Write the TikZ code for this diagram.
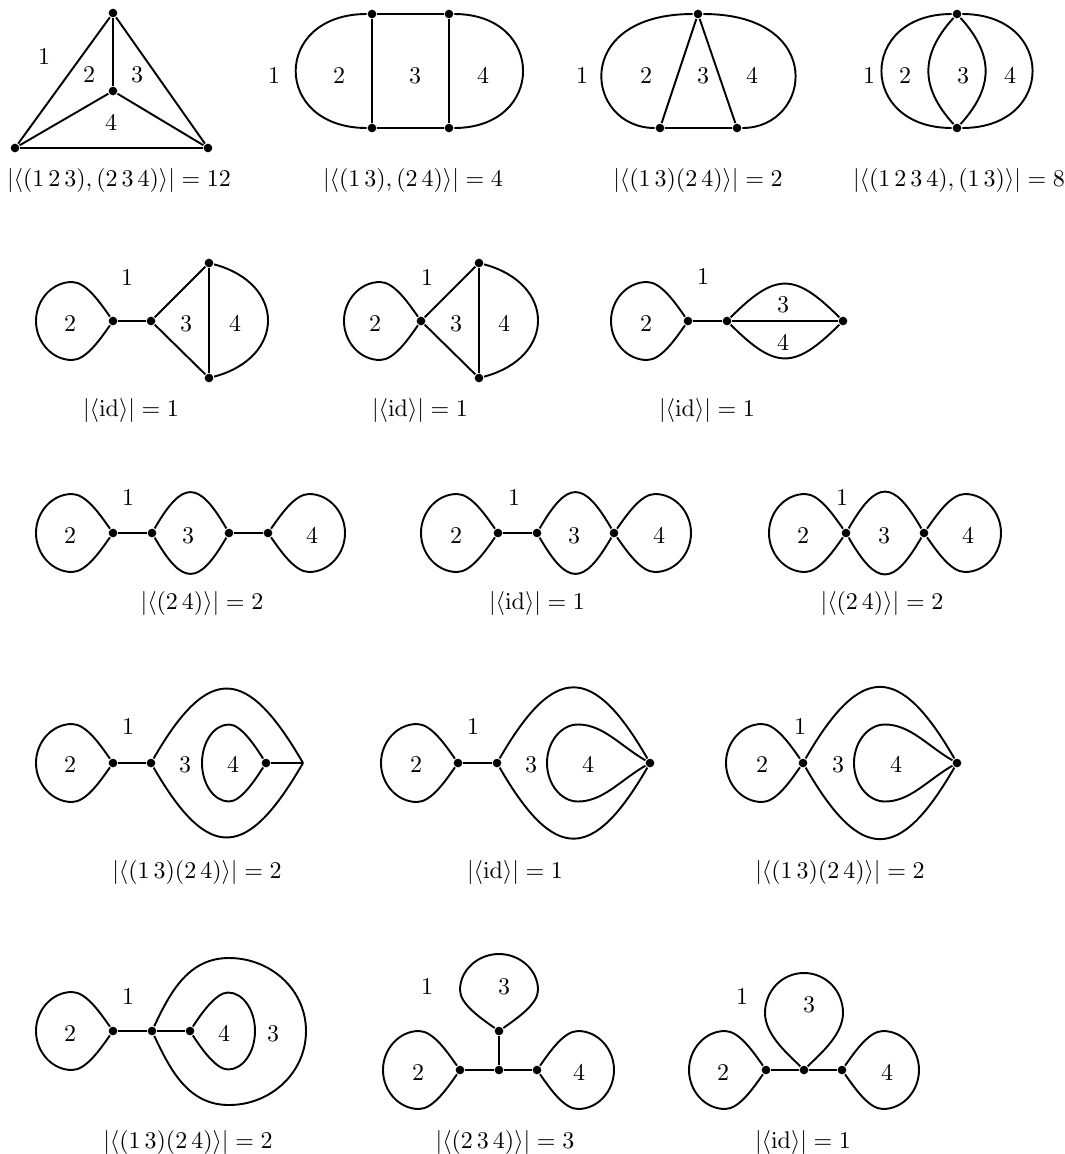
\documentclass[tikz,border=0pt]{standalone}
\usepackage{amsmath, amssymb}
\usepackage{tikz}

\begin{document}
\begin{tikzpicture}[x=0.4167pt,y=-0.4167pt,thick,
  dot/.style={circle,fill,inner sep=0pt,minimum size=3.6pt},
  dropl/.style={to path={.. controls +(-13,-18.5) and +(14,0) .. ++(-41,-39)
    .. controls +(-20,0) and +(0,-21) .. ++(-36,39)
    .. controls +(0,21) and +(-20,0) .. ++(36,39)
    .. controls +(14,0) and +(-13,18.5) .. (\tikztotarget)}},
  dropr/.style={to path={.. controls +(13,-18.5) and +(-14,0) .. ++(41,-39)
    .. controls +(20,0) and +(0,-21) .. ++(36,39)
    .. controls +(0,21) and +(20,0) .. ++(-36,39)
    .. controls +(-14,0) and +(13,18.5) .. (\tikztotarget)}},
  dropu/.style={to path={.. controls +(-18.5,-13) and +(0,14) .. ++(-39,-41)
    .. controls +(0,-20) and +(-21,0) .. ++(39,-36)
    .. controls +(21,0) and +(0,-20) .. ++(39,36)
    .. controls +(0,14) and +(18.5,-13) .. (\tikztotarget)}},
  dropw/.style={to path={.. controls +(-30,-17.5) and +(25,0) .. ++(-72,-38.5)
    .. controls +(-17,0) and +(0,-21) .. ++(-31,38.5)
    .. controls +(0,21) and +(-17,0) .. ++(31,38.5)
    .. controls +(25,0) and +(-30,17.5) .. (\tikztotarget)}}]
\useasboundingbox (0,0) rectangle (1065,1154);

%第一行：四面体
\node[dot] (a-t) at (113,13) {};
\node[dot] (a-m) at (113,91) {};
\node[dot] (a-l) at (15,148) {};
\node[dot] (a-r) at (208,148) {};
\draw (a-t)--(a-m);
\draw (a-t)--(a-l);
\draw (a-t)--(a-r);
\draw (a-m)--(a-l);
\draw (a-m)--(a-r);
\draw (a-l)--(a-r);
\node (a1) at (44,57) {$1$};
\node (a2) at (89,75) {$2$};
\node (a3) at (137,75) {$3$};
\node (a4) at (111,123) {$4$};
\node (a-cap) at (119,180) {$|\langle(1\,2\,3),(2\,3\,4)\rangle|=12$};

%圆角矩形
\node[dot] (b-tl) at (372,14) {};
\node[dot] (b-tr) at (449,14) {};
\node[dot] (b-bl) at (372,128) {};
\node[dot] (b-br) at (449,128) {};
\draw (b-tl)--(b-tr);
\draw (b-bl)--(b-br);
\draw (b-tl)--(b-bl);
\draw (b-tr)--(b-br);
\draw (b-tl) .. controls (272,14) and (272,128) .. (b-bl);
\draw (b-tr) .. controls (546,14) and (546,128) .. (b-br);
\node (b1) at (274,76) {$1$};
\node (b2) at (339,76) {$2$};
\node (b3) at (415,76) {$3$};
\node (b4) at (483,76) {$4$};
\node (b-cap) at (413,180) {$|\langle(1\,3),(2\,4)\rangle|=4$};

%三角形加外圈
\node[dot] (c-t) at (698,14) {};
\node[dot] (c-l) at (660,128) {};
\node[dot] (c-r) at (737,128) {};
\draw (c-t)--(c-l);
\draw (c-t)--(c-r);
\draw (c-l)--(c-r);
\draw (c-t) .. controls (570,14) and (585,128) .. (c-l);
\draw (c-t) .. controls (827,14) and (812,128) .. (c-r);
\node (c1) at (582,76) {$1$};
\node (c2) at (646,76) {$2$};
\node (c3) at (703,76) {$3$};
\node (c4) at (752,76) {$4$};
\node (c-cap) at (698,180) {$|\langle(1\,3)(2\,4)\rangle|=2$};

%四条边连两点
\node[dot] (d-t) at (957,14) {};
\node[dot] (d-b) at (957,128) {};
\draw (d-t) .. controls (858,14) and (858,128) .. (d-b);
\draw (d-t) .. controls (1056,14) and (1056,128) .. (d-b);
\draw (d-t) .. controls (920,55) and (920,87) .. (d-b);
\draw (d-t) .. controls (994,55) and (994,87) .. (d-b);
\node (d1) at (869,76) {$1$};
\node (d2) at (905,76) {$2$};
\node (d3) at (963,76) {$3$};
\node (d4) at (1010,76) {$4$};
\node (d-cap) at (959,180) {$|\langle(1\,2\,3\,4),(1\,3)\rangle|=8$};

%第二行
\node[dot] (e-a) at (113,321) {};
\node[dot] (e-b) at (151,321) {};
\node[dot] (e-t) at (209,263) {};
\node[dot] (e-d) at (209,378) {};
\draw (e-a) to[dropl] (e-a);
\draw (e-a)--(e-b);
\draw (e-b)--(e-t);
\draw (e-b)--(e-d);
\draw (e-t)--(e-d);
\draw (e-t) to[out=-15,in=15,looseness=1.7] (e-d);
\node (e1) at (127,278) {$1$};
\node (e2) at (70,324) {$2$};
\node (e3) at (186,324) {$3$};
\node (e4) at (235,324) {$4$};
\node (e-cap) at (131,410) {$|\langle\mathrm{id}\rangle|=1$};

\node[dot] (f-m) at (421,321) {};
\node[dot] (f-t) at (479,263) {};
\node[dot] (f-d) at (479,378) {};
\draw (f-m) to[dropl] (f-m);
\draw (f-m)--(f-t);
\draw (f-m)--(f-d);
\draw (f-t)--(f-d);
\draw (f-t) to[out=-15,in=15,looseness=1.7] (f-d);
\node (f1) at (427,278) {$1$};
\node (f2) at (375,324) {$2$};
\node (f3) at (456,324) {$3$};
\node (f4) at (504,324) {$4$};
\node (f-cap) at (420,410) {$|\langle\mathrm{id}\rangle|=1$};

\node[dot] (g-a) at (688,321) {};
\node[dot] (g-b) at (727,321) {};
\node[dot] (g-c) at (843,321) {};
\draw (g-a) to[dropl] (g-a);
\draw (g-a)--(g-b);
\draw (g-b)--(g-c);
\draw (g-b) to[out=45,in=135,looseness=1.5] (g-c);
\draw (g-b) to[out=-45,in=-135,looseness=1.5] (g-c);
\node (g1) at (703,277) {$1$};
\node (g2) at (646,324) {$2$};
\node (g3) at (783,305) {$3$};
\node (g4) at (783,343) {$4$};
\node (g-cap) at (707,410) {$|\langle\mathrm{id}\rangle|=1$};

%第三行
\node[dot] (h-a) at (113,533) {};
\node[dot] (h-b) at (152,533) {};
\node[dot] (h-c) at (229,533) {};
\node[dot] (h-d) at (268,533) {};
\draw (h-a) to[dropl] (h-a);
\draw (h-d) to[dropr] (h-d);
\draw (h-a)--(h-b);
\draw (h-c)--(h-d);
\draw (h-b) to[out=60,in=120,looseness=2] (h-c);
\draw (h-b) to[out=-60,in=-120,looseness=2] (h-c);
\node (h1) at (128,498) {$1$};
\node (h2) at (70,536) {$2$};
\node (h3) at (188,536) {$3$};
\node (h4) at (312,536) {$4$};
\node (h-cap) at (202,603) {$|\langle(2\,4)\rangle|=2$};

\node[dot] (i-a) at (498,533) {};
\node[dot] (i-b) at (537,533) {};
\node[dot] (i-c) at (614,533) {};
\draw (i-a) to[dropl] (i-a);
\draw (i-c) to[dropr] (i-c);
\draw (i-a)--(i-b);
\draw (i-b) to[out=60,in=120,looseness=2] (i-c);
\draw (i-b) to[out=-60,in=-120,looseness=2] (i-c);
\node (i1) at (514,498) {$1$};
\node (i2) at (456,536) {$2$};
\node (i3) at (574,536) {$3$};
\node (i4) at (659,536) {$4$};
\node (i-cap) at (537,603) {$|\langle\mathrm{id}\rangle|=1$};

\node[dot] (j-a) at (846,533) {};
\node[dot] (j-b) at (924,533) {};
\draw (j-a) to[dropl] (j-a);
\draw (j-b) to[dropr] (j-b);
\draw (j-a) to[out=60,in=120,looseness=2] (j-b);
\draw (j-a) to[out=-60,in=-120,looseness=2] (j-b);
\node (j1) at (842,498) {$1$};
\node (j2) at (803,536) {$2$};
\node (j3) at (884,536) {$3$};
\node (j4) at (968,536) {$4$};
\node (j-cap) at (882,603) {$|\langle(2\,4)\rangle|=2$};

%第四行
\node[dot] (k-a) at (113,763) {};
\node[dot] (k-b) at (151,763) {};
\node[dot] (k-e) at (266,763) {};
\coordinate (k-r) at (303,763);
\draw (k-a) to[dropl] (k-a);
\draw (k-a)--(k-b);
\draw (k-b) to[out=60,in=120,looseness=1.9] (k-r);
\draw (k-b) to[out=-60,in=-120,looseness=1.9] (k-r);
\draw (k-e) .. controls +(-11,-17) and +(12,0) .. ++(-37,-38.5)
  .. controls +(-15,0) and +(0,-21) .. ++(-27,38.5)
  .. controls +(0,21) and +(-15,0) .. ++(27,38.5)
  .. controls +(12,0) and +(-11,17) .. (k-e);
\draw (k-e)--(k-r);
\node (k1) at (128,727) {$1$};
\node (k2) at (70,765) {$2$};
\node (k3) at (185,765) {$3$};
\node (k4) at (233,765) {$4$};
\node (k-cap) at (197,872) {$|\langle(1\,3)(2\,4)\rangle|=2$};

\node[dot] (l-a) at (458,763) {};
\node[dot] (l-b) at (497,763) {};
\node[dot] (l-r) at (650,763) {};
\draw (l-a) to[dropl] (l-a);
\draw (l-a)--(l-b);
\draw (l-b) to[out=60,in=120,looseness=1.9] (l-r);
\draw (l-b) to[out=-60,in=-120,looseness=1.9] (l-r);
\draw (l-r) to[dropw] (l-r);
\node (l1) at (473,727) {$1$};
\node (l2) at (416,765) {$2$};
\node (l3) at (531,765) {$3$};
\node (l4) at (588,765) {$4$};
\node (l-cap) at (515,872) {$|\langle\mathrm{id}\rangle|=1$};

\node[dot] (m-a) at (803,763) {};
\node[dot] (m-r) at (957,763) {};
\draw (m-a) to[dropl] (m-a);
\draw (m-a) to[out=60,in=120,looseness=1.9] (m-r);
\draw (m-a) to[out=-60,in=-120,looseness=1.9] (m-r);
\draw (m-r) to[dropw] (m-r);
\node (m1) at (800,727) {$1$};
\node (m2) at (762,765) {$2$};
\node (m3) at (838,765) {$3$};
\node (m4) at (896,765) {$4$};
\node (m-cap) at (840,872) {$|\langle(1\,3)(2\,4)\rangle|=2$};

%第五行
\node[dot] (n-a) at (113,1031) {};
\node[dot] (n-b) at (152,1031) {};
\node[dot] (n-e) at (190,1031) {};
\draw (n-a) to[dropl] (n-a);
\draw (n-a)--(n-b);
\draw (n-b)--(n-e);
\draw (n-e) .. controls +(11,-17) and +(-12,0) .. ++(38,-38.5)
  .. controls +(15,0) and +(0,-21) .. ++(27,38.5)
  .. controls +(0,21) and +(15,0) .. ++(-27,38.5)
  .. controls +(-12,0) and +(11,17) .. (n-e);
\draw (n-b) to[out=65,in=180] (229,958) to[out=0,in=90] (306,1031)
  to[out=-90,in=0] (229,1105) to[out=180,in=-65] (n-b);
\node (n1) at (128,997) {$1$};
\node (n2) at (70,1034) {$2$};
\node (n4) at (224,1034) {$4$};
\node (n3) at (273,1034) {$3$};
\node (n-cap) at (188,1142) {$|\langle(1\,3)(2\,4)\rangle|=2$};

\node[dot] (o-a) at (460,1070) {};
\node[dot] (o-m) at (499,1070) {};
\node[dot] (o-c) at (537,1070) {};
\node[dot] (o-s) at (499,1031) {};
\draw (o-a) to[dropl] (o-a);
\draw (o-c) to[dropr] (o-c);
\draw (o-s) to[dropu] (o-s);
\draw (o-a)--(o-m);
\draw (o-m)--(o-c);
\draw (o-m)--(o-s);
\node (o1) at (427,987) {$1$};
\node (o3) at (504,987) {$3$};
\node (o2) at (418,1073) {$2$};
\node (o4) at (579,1073) {$4$};
\node (o-cap) at (505,1142) {$|\langle(2\,3\,4)\rangle|=3$};

\node[dot] (p-a) at (766,1070) {};
\node[dot] (p-m) at (804,1070) {};
\node[dot] (p-c) at (842,1070) {};
\draw (p-a) to[dropl] (p-a);
\draw (p-c) to[dropr] (p-c);
\draw (p-m) .. controls +(-15.6,-15.6) and +(0,22) .. ++(-39,-57)
  .. controls +(0,-22) and +(-22,0) .. ++(39,-40)
  .. controls +(22,0) and +(0,-22) .. ++(39,40)
  .. controls +(0,22) and +(15.6,-15.6) .. (p-m);
\draw (p-a)--(p-m);
\draw (p-m)--(p-c);
\node (p1) at (742,997) {$1$};
\node (p3) at (809,1005) {$3$};
\node (p2) at (723,1073) {$2$};
\node (p4) at (887,1073) {$4$};
\node (p-cap) at (803,1142) {$|\langle\mathrm{id}\rangle|=1$};
\end{tikzpicture}
\end{document}
